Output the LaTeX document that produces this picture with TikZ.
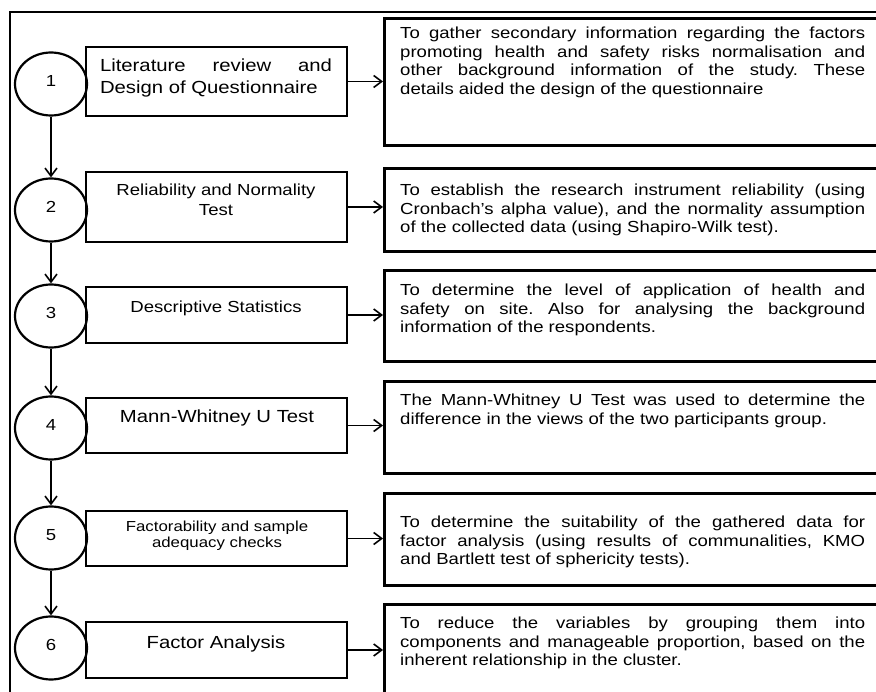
\documentclass[tikz,border=0pt]{standalone}
\usepackage{fontspec}
\setmainfont{Liberation Sans}[FakeStretch=1.16]
\usetikzlibrary{shapes.geometric,arrows.meta}
\hyphenpenalty=10000
\exhyphenpenalty=10000
\tolerance=9999
\frenchspacing
\begin{document}
\frenchspacing
\begin{tikzpicture}[x=1pt,y=-1pt,
  numcirc/.style={ellipse, draw, line width=2.2pt, minimum width=72pt, minimum height=63pt, inner sep=0pt, font=\fontsize{16}{19}\selectfont, text depth=6pt},
  lbox/.style={draw, line width=2.2pt, minimum width=261pt, inner sep=0pt},
  rbox/.style={draw, line width=3pt, minimum width=507pt, anchor=north west, inner sep=0pt},
  rtext/.style={anchor=north west, inner sep=0pt, text width=465pt, align=justify, font=\fontsize{16}{18.6}\selectfont},
  ltext/.style={inner sep=0pt},
  conn/.style={line width=1.6pt, -{Straight Barb[length=8pt,width=12pt]}},
  frame/.style={line width=2.2pt}
]
\useasboundingbox (0,0) rectangle (876,692);
% outer frame
\coordinate (fb) at (10,710);
\coordinate (ft) at (10,12);
\coordinate (fr) at (900,12);
\draw[frame] (fb) -- (ft) -- (fr);

% circles
\node[numcirc] (c1) at (51,84) {1};
\node[numcirc] (c2) at (51,210) {2};
\node[numcirc] (c3) at (51,316) {3};
\node[numcirc] (c4) at (51,428) {4};
\node[numcirc] (c5) at (51,538) {5};
\node[numcirc] (c6) at (51,648) {6};

% left boxes
\node[lbox, minimum height=69pt] (b1) at (216.5,81.5) {};
\node[lbox, minimum height=70pt] (b2) at (216.5,207) {};
\node[lbox, minimum height=56pt] (b3) at (216.5,315) {};
\node[lbox, minimum height=55pt] (b4) at (216.5,425.5) {};
\node[lbox, minimum height=55pt] (b5) at (216.5,538.5) {};
\node[lbox, minimum height=56pt] (b6) at (216.5,650) {};

% left box texts
\node[ltext, font=\fontsize{17.5}{22}\selectfont, text width=232pt, align=justify] (t1) at (216,78) {Literature review and\linebreak Design of Questionnaire};
\node[ltext, font=\fontsize{16}{20}\selectfont, align=center] (t2) at (216,200) {Reliability and Normality\\Test};
\node[ltext, font=\fontsize{16}{19}\selectfont] (t3) at (216,308) {Descriptive Statistics};
\node[ltext, font=\fontsize{17.5}{21}\selectfont] (t4) at (217,418) {Mann-Whitney U Test};
\node[ltext, font=\fontsize{14.5}{16}\selectfont, align=center] (t5) at (217,536) {Factorability and sample\\adequacy checks};
\node[ltext, font=\fontsize{17.5}{21}\selectfont] (t6) at (216,644) {Factor Analysis};

% right boxes
\node[rbox, minimum height=127pt] (r1) at (383,17) {};
\node[rbox, minimum height=83pt] (r2) at (383,167) {};
\node[rbox, minimum height=91pt] (r3) at (383,269) {};
\node[rbox, minimum height=92pt] (r4) at (383,380) {};
\node[rbox, minimum height=92pt] (r5) at (383,492) {};
\node[rbox, minimum height=110pt] (r6) at (383,603) {};

% right texts
\node[rtext] (rt1) at (400,27) {To gather secondary information regarding the factors\linebreak promoting health and safety risks normalisation and\linebreak other background information of the study. These\linebreak details aided the design of the questionnaire};
\node[rtext] (rt2) at (400,184) {To establish the research instrument reliability (using\linebreak Cronbach’s alpha value), and the normality assumption\linebreak of the collected data (using Shapiro-Wilk test).};
\node[rtext] (rt3) at (400,284) {To determine the level of application of health and\linebreak safety on site. Also for analysing the background\linebreak information of the respondents.};
\node[rtext] (rt4) at (400,394) {The Mann-Whitney U Test was used to determine the\linebreak difference in the views of the two participants group.};
\node[rtext] (rt5) at (400,516) {To determine the suitability of the gathered data for\linebreak factor analysis (using results of communalities, KMO\linebreak and Bartlett test of sphericity tests).};
\node[rtext] (rt6) at (400,617) {To reduce the variables by grouping them into\linebreak components and manageable proportion, based on the\linebreak inherent relationship in the cluster.};

% vertical connectors
\draw[conn] (c1.south) -- (c2.north);
\draw[conn] (c2.south) -- (c3.north);
\draw[conn] (c3.south) -- (c4.north);
\draw[conn] (c4.south) -- (c5.north);
\draw[conn] (c5.south) -- (c6.north);

% horizontal connectors
\draw[conn] (b1.east) -- (b1.east -| r1.west);
\draw[conn] (b2.east) -- (b2.east -| r2.west);
\draw[conn] (b3.east) -- (b3.east -| r3.west);
\draw[conn] (b4.east) -- (b4.east -| r4.west);
\draw[conn] (b5.east) -- (b5.east -| r5.west);
\draw[conn] (b6.east) -- (b6.east -| r6.west);
\end{tikzpicture}
\end{document}
